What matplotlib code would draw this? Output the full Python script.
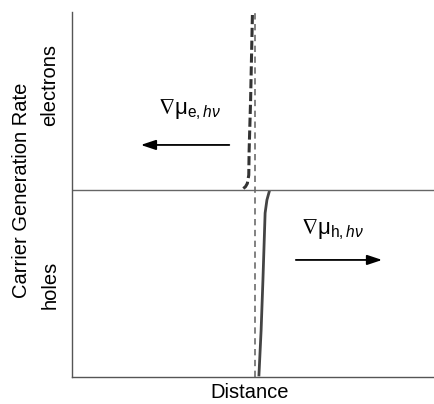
import matplotlib.pyplot as plt
import numpy as np

plt.rcParams['font.family'] = ['Liberation Sans', 'DejaVu Sans']
plt.rcParams['mathtext.fontset'] = 'custom'
plt.rcParams['mathtext.rm'] = 'Liberation Sans'
plt.rcParams['mathtext.it'] = 'Liberation Sans:italic'
plt.rcParams['mathtext.fallback'] = 'stixsans'

# electron generation profile (upper half), distance vs rate
x_e = [0.497, 0.492, 0.488, 0.487, 0.483, 0.478, 0.472]
y_e = [0.936, 0.481, 0.214, 0.080, 0.035, 0.018, 0.008]
# hole generation profile (lower half)
x_h = [0.543, 0.537, 0.532, 0.526, 0.521, 0.515]
y_h = [-0.011, -0.053, -0.123, -0.481, -0.749, -0.989]
x_interface = 0.504

fig = plt.figure(figsize=(4.35, 4.04), dpi=100)
ax = fig.add_axes([72 / 435, 27 / 404, 363 / 435, 365 / 404])
ax.set_xlim(0, 1)
ax.set_ylim(-1, 0.952)

ax.plot(x_e, y_e, color='#333333', lw=2.2, ls=(0, (3, 1.2)))
ax.plot(x_h, y_h, color='#444444', lw=2.0)
ax.axvline(x_interface, ymin=0, ymax=1.0, color='#777777', lw=1.3, ls=(0, (3.5, 2.5)))
ax.axhline(0, color='#666666', lw=1.0)

for s in ['top', 'right']:
    ax.spines[s].set_visible(False)
for s in ['left', 'bottom']:
    ax.spines[s].set_color('#555555')
    ax.spines[s].set_linewidth(1.0)
ax.set_xticks([])
ax.set_yticks([])

ax.annotate('', xy=(0.182, 0.241), xytext=(0.441, 0.241),
            arrowprops=dict(arrowstyle='-|>,head_length=0.9,head_width=0.3',
                            color='black', lw=1.3))
ax.annotate('', xy=(0.862, -0.374), xytext=(0.609, -0.374),
            arrowprops=dict(arrowstyle='-|>,head_length=0.9,head_width=0.3',
                            color='black', lw=1.3))

ax.text(0.236, 0.43, r'$\nabla\mathrm{\mu}_{\mathrm{e},\mathit{h}\nu}$', fontsize=16, va='center')
ax.text(0.632, -0.21, r'$\nabla\mathrm{\mu}_{\mathrm{h},\mathit{h}\nu}$', fontsize=16, va='center')

fig.text(22 / 435, 1 - 190 / 404, 'Carrier Generation Rate', rotation=90,
         ha='center', va='center', fontsize=14.5)
fig.text(50 / 435, 1 - 85 / 404, 'electrons', rotation=90,
         ha='center', va='center', fontsize=14.5)
fig.text(50 / 435, 1 - 285 / 404, 'holes', rotation=90,
         ha='center', va='center', fontsize=14.5)
fig.text(250 / 435, 1 - 393 / 404, 'Distance', ha='center', va='center', fontsize=14.5)

fig.savefig('out.png', dpi=100)
